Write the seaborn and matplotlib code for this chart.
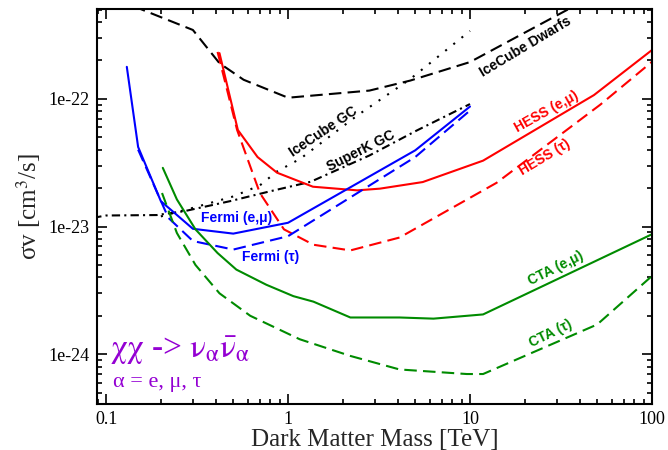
import numpy as np
import pandas as pd
import seaborn as sns
import matplotlib
matplotlib.use("Agg")
from matplotlib import pyplot as plt
from matplotlib.ticker import FuncFormatter, NullFormatter, LogLocator

# limits: mass in TeV, <sigma v> in cm^3/s
fermi_em_x = [0.13, 0.15, 0.2, 0.3, 0.5, 1.0, 5.0, 10.0]
fermi_em_y = [1.78e-22, 4.2e-23, 1.58e-23, 9.6e-24, 8.8e-24, 1.07e-23, 3.95e-23, 8.7e-23]

fermi_tau_x = [0.15, 0.22, 0.3, 0.5, 1.0, 5.0, 10.0]
fermi_tau_y = [4.0e-23, 1.17e-23, 7.7e-24, 6.6e-24, 8.4e-24, 3.5e-23, 8.1e-23]

hess_em_x = [0.42, 0.53, 0.68, 0.87, 1.37, 2.4, 3.2, 5.5, 11.8, 48, 100]
hess_em_y = [2.28e-22, 5.7e-23, 3.5e-23, 2.64e-23, 2.05e-23, 1.92e-23, 1.98e-23,
             2.23e-23, 3.28e-23, 1.07e-22, 2.41e-22]

hess_tau_x = [0.41, 0.525, 0.7, 0.95, 1.38, 2.2, 4.1, 14, 52, 100]
hess_tau_y = [2.33e-22, 5.7e-23, 1.83e-23, 9.5e-24, 7.2e-24, 6.5e-24, 8.2e-24,
              2.2e-23, 9.0e-23, 1.95e-22]

cta_em_x = [0.205, 0.245, 0.31, 0.41, 0.52, 0.76, 1.07, 1.38, 2.2, 4.1, 6.3, 11.8, 100]
cta_em_y = [2.88e-23, 1.63e-23, 9.5e-24, 6.2e-24, 4.6e-24, 3.5e-24, 2.85e-24, 2.58e-24,
            1.94e-24, 1.94e-24, 1.9e-24, 2.05e-24, 8.7e-24]

cta_tau_x = [0.203, 0.245, 0.31, 0.42, 0.62, 1.16, 2.2, 4.1, 9.6, 11.8, 50, 100]
cta_tau_y = [1.83e-23, 8.9e-24, 5.0e-24, 3.0e-24, 2.0e-24, 1.31e-24, 9.7e-25, 7.6e-25,
             7.0e-25, 7.0e-25, 1.71e-24, 4.1e-24]

icecube_dwarfs_x = [0.1, 0.16, 0.3, 0.42, 0.57, 1.0, 2.8, 4.7, 10, 34, 50]
icecube_dwarfs_y = [6.5e-22, 4.95e-22, 3.46e-22, 1.9e-22, 1.41e-22, 1.02e-22, 1.16e-22,
                    1.39e-22, 1.94e-22, 4.95e-22, 6.65e-22]

icecube_gc_x = [0.2, 0.3, 0.5, 0.7, 0.87, 1.17, 2.4, 4.7, 10]
icecube_gc_y = [1.2e-23, 1.4e-23, 1.72e-23, 2.1e-23, 2.7e-23, 3.4e-23, 7.4e-23, 1.43e-22, 3.4e-22]

superk_gc_x = [0.085, 0.1, 0.19, 0.27, 0.48, 0.8, 1.33, 2.8, 5.1, 10]
superk_gc_y = [1.17e-23, 1.22e-23, 1.23e-23, 1.32e-23, 1.58e-23, 1.89e-23, 2.24e-23,
               3.6e-23, 5.65e-23, 9.1e-23]

x_ticks = [0.1, 1, 10, 100]
y_ticks = [1e-24, 1e-23, 1e-22]

RED = "#ff0000"
GREEN = "#008b00"
BLUE = "#0000ff"
VIOLET = "#9400d3"

sns.set_style("ticks")
plt.rcParams['font.family'] = ['Liberation Serif', 'DejaVu Serif']
plt.rcParams['mathtext.fontset'] = 'stix'

fig, ax = plt.subplots(figsize=(6.68, 4.5), dpi=100)
fig.subplots_adjust(left=0.145, right=0.976, bottom=0.102, top=0.98)

lw = 1.5
dash = (0, (6, 3))
curves = [
    (icecube_dwarfs_x, icecube_dwarfs_y, 'k', dash),
    (icecube_gc_x, icecube_gc_y, 'k', (0, (1, 4))),
    (superk_gc_x, superk_gc_y, 'k', (0, (4, 2, 1, 2))),
    (hess_em_x, hess_em_y, RED, '-'),
    (hess_tau_x, hess_tau_y, RED, dash),
    (fermi_em_x, fermi_em_y, BLUE, '-'),
    (fermi_tau_x, fermi_tau_y, BLUE, dash),
    (cta_em_x, cta_em_y, GREEN, '-'),
    (cta_tau_x, cta_tau_y, GREEN, dash),
]
for xs, ys, col, ls in curves:
    df = pd.DataFrame({'mass': xs, 'sv': ys})
    sns.lineplot(data=df, x='mass', y='sv', ax=ax, color=col, linestyle=ls,
                 linewidth=lw, sort=False, estimator=None)

ax.set_xscale('log')
ax.set_yscale('log')
ax.set_xticks(x_ticks)
ax.set_yticks(y_ticks)
ax.set_xlim(0.089, 100)
ax.set_ylim(4.07e-25, 5.05e-22)

ax.xaxis.set_major_formatter(FuncFormatter(lambda v, p: f'{v:g}'))
ax.yaxis.set_major_formatter(FuncFormatter(lambda v, p: f'1e{int(round(np.log10(v)))}'))
ax.xaxis.set_minor_locator(LogLocator(subs=np.arange(2, 10)))
ax.yaxis.set_minor_locator(LogLocator(subs=np.arange(2, 10)))
ax.xaxis.set_minor_formatter(NullFormatter())
ax.yaxis.set_minor_formatter(NullFormatter())
ax.xaxis.offsetText.set_visible(False)
ax.yaxis.offsetText.set_visible(False)

ax.tick_params(which='both', direction='in', top=True, right=True, width=1.2,
               labelsize=13, colors='k')
ax.tick_params(which='major', length=7, pad=5)
ax.tick_params(which='minor', length=3.5)
for s in ax.spines.values():
    s.set_linewidth(1.5)
    s.set_color('k')

ax.set_xlabel('Dark Matter Mass [TeV]', fontsize=18, labelpad=1)
ax.set_ylabel('σv [cm$^3$/s]', fontsize=18, labelpad=4)

lab = dict(family='Liberation Sans', fontweight='bold', fontsize=10,
           ha='center', va='center', rotation_mode='anchor')
ax.text(20.3, 2.55e-22, 'IceCube Dwarfs', color='k', rotation=31, **lab)
ax.text(1.56, 5.5e-23, 'IceCube GC', color='k', rotation=34, **lab)
ax.text(2.52, 3.93e-23, 'SuperK GC', color='k', rotation=27, **lab)
ax.text(26.2, 7.9e-23, 'HESS (e,μ)', color=RED, rotation=29, **lab)
ax.text(25.8, 3.5e-23, 'HESS (τ)', color=RED, rotation=31, **lab)
ax.text(0.525, 1.17e-23, 'Fermi (e,μ)', color=BLUE, rotation=0, **lab)
ax.text(0.806, 5.73e-24, 'Fermi (τ)', color=BLUE, rotation=0, **lab)
ax.text(29.7, 4.7e-24, 'CTA (e,μ)', color=GREEN, rotation=26.5, **lab)
ax.text(27.9, 1.46e-24, 'CTA (τ)', color=GREEN, rotation=26, **lab)

ax.text(0.023, 0.116, r'$\mathrm{\chi\chi}$ -> $\mathrm{\nu_{\alpha}\bar{\nu}_{\alpha}}$',
        transform=ax.transAxes, color=VIOLET, fontsize=24, ha='left', va='baseline')
ax.text(0.029, 0.043, 'α = e, μ, τ', transform=ax.transAxes, color=VIOLET,
        fontsize=16, ha='left', va='baseline')

fig.savefig('out.png', dpi=100)
